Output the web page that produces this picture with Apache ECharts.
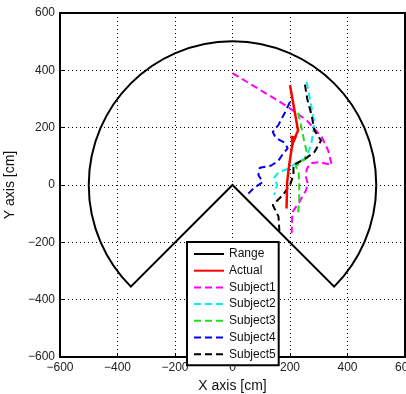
<!DOCTYPE html>
<html>
<head>
<meta charset="utf-8">
<script src="https://cdn.jsdelivr.net/npm/echarts@6/dist/echarts.min.js"></script>
<style>html,body{margin:0;padding:0;background:#fff}#c{width:406px;height:394px}</style>
</head>
<body>
<div id="c"></div>
<script>
// ---- data ----
const axisMin = -600, axisMax = 600, axisStep = 200;
const rangeCenter = [0, 0];
const rangeRadius = 500;
const rangeAngles = [-45, 225]; // open wedge between these (deg), arc goes through top

const actual = [[200,348],[228,190],[210,150],[205,122],[198,75],[190,10],[188,-82]];
const actualArrowIndex = 2;

const subject1 = [[0,390],[183,279],[258,226],[310,168],[333,120],[345,70],[300,80],[270,75],[258,55],[255,30],[262,5],[255,-20],[232,-60],[208,-95],[206,-168]];
const subject2 = [[258,360],[270,296],[283,226],[282,190],[275,150],[258,95],[230,82],[190,55],[160,45],[145,25],[155,0],[145,-35]];
const subject3 = [[228,252],[240,200],[248,160],[258,115],[252,90],[220,66],[230,45],[232,0],[232,-50],[228,-100]];
const subject4 = [[200,290],[183,254],[160,210],[140,185],[150,165],[180,148],[192,128],[175,108],[160,85],[135,68],[95,60],[90,35],[105,10],[75,-10],[55,-30]];
const subject5 = [[252,350],[260,300],[275,244],[285,190],[308,155],[285,115],[258,95],[235,82],[212,70],[212,35],[200,0],[175,-35],[140,-70],[160,-110],[163,-160]];

const subjectNames = ['Subject1','Subject2','Subject3','Subject4','Subject5'];
const subjectData = [subject1, subject2, subject3, subject4, subject5];
const subjectColors = ['#ff00ff','#00f0f0','#22dd22','#0000ee','#000000'];

// ---- chart ----
const chart = echarts.init(document.getElementById('c'), null, {renderer:'canvas'});
const fmt = v => String(v).replace('-', '\u2212');
const font = '"Liberation Sans", Arial, Helvetica, sans-serif';

const series = [];
// legend proxy for Range (style only)
series.push({name:'Range', type:'line', data:[], symbol:'none',
  lineStyle:{color:'#000', width:2.5}, itemStyle:{color:'#000'}});
// Range sector outline
series.push({
  name:'Range', type:'custom', silent:true, z:3,
  data:[[rangeCenter[0], rangeCenter[1], rangeRadius]],
  renderItem: function(params, api){
    const c = api.coord([api.value(0), api.value(1)]);
    const r = api.size([api.value(2), 0])[0];
    const a0 = -rangeAngles[1] * Math.PI/180 + 2*Math.PI; // screen angle for 225 deg
    const a1 = -rangeAngles[0] * Math.PI/180 + 2*Math.PI; // screen angle for -45 deg
    return {
      type:'sector',
      shape:{cx:c[0], cy:c[1], r0:0, r:r, startAngle:a0, endAngle:a1, clockwise:true},
      style:{fill:null, stroke:'#000', lineWidth:2}
    };
  }
});
series.push({
  name:'Actual', type:'line', symbol:'triangle', showSymbol:true, z:5,
  data: actual.map((p,i) => i === actualArrowIndex
    ? {value:p, symbol:'triangle', symbolSize:[7,12], symbolRotate:172,
       itemStyle:{color:'#ff0000', borderWidth:0}}
    : {value:p, symbol:'none'}),
  lineStyle:{color:'#ff0000', width:2.5}, itemStyle:{color:'#ff0000'}
});
subjectNames.forEach((n,i) => {
  series.push({
    name:n, type:'line', symbol:'none', z:4,
    data: subjectData[i],
    lineStyle:{color:subjectColors[i], width:2, type:[7,4]},
    itemStyle:{color:subjectColors[i]}
  });
});

const axisCommon = {
  type:'value', min:axisMin, max:axisMax, interval:axisStep,
  axisLine:{show:true, onZero:false, lineStyle:{color:'#000', width:2}},
  axisTick:{show:true, inside:true, length:4, lineStyle:{color:'#000'}},
  splitLine:{show:true, lineStyle:{color:'#000', type:[1,3], width:1}},
  axisLabel:{color:'#222', fontSize:12, fontFamily:font, formatter:fmt, hideOverlap:false},
  nameLocation:'middle',
  nameTextStyle:{color:'#111', fontSize:14, fontFamily:font}
};

chart.setOption({
  animation:false,
  backgroundColor:'#fff',
  grid:{left:60, right:1, top:13, bottom:37, containLabel:false, outerBoundsMode:'none',
    show:true, borderColor:'#000', borderWidth:2, backgroundColor:'transparent'},
  xAxis: Object.assign({}, axisCommon, {name:'X axis [cm]', nameGap:18,
    axisLabel:Object.assign({}, axisCommon.axisLabel, {margin:5})}),
  yAxis: Object.assign({}, axisCommon, {name:'Y axis [cm]', nameGap:31,
    axisLabel:Object.assign({}, axisCommon.axisLabel, {margin:5})}),
  legend:{
    data:['Range','Actual'].concat(subjectNames),
    orient:'vertical', left:187, top:242,
    backgroundColor:'#fff', borderColor:'#000', borderWidth:2,
    padding:[6,3,5,6], itemWidth:30, itemHeight:10, itemGap:4.7,
    itemStyle:{opacity:0},
    textStyle:{color:'#111', fontSize:12, fontFamily:font}
  },
  series: series
});
</script>
</body>
</html>
